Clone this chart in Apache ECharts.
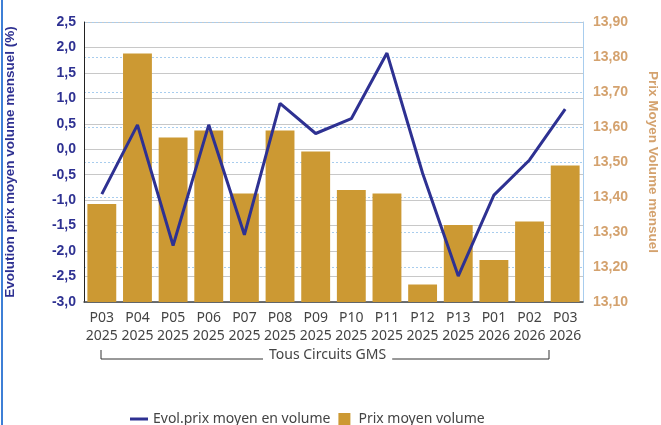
<!DOCTYPE html>
<html>
<head>
<meta charset="utf-8">
<script src="https://cdn.jsdelivr.net/npm/echarts@6/dist/echarts.min.js"></script>
<style>
  html, body { margin: 0; padding: 0; background: #fff; }
  #frame { position: absolute; left: 0; top: 0; width: 661px; height: 425px; }
  #frame:before { content: ''; position: absolute; left: 1px; top: 0; width: 2px; height: 425px; background: #3d7fd6; }
  #chart { width: 661px; height: 425px; }
</style>
</head>
<body>
<div id="frame"><div id="chart"></div></div>
<script>
const periods = ['P03', 'P04', 'P05', 'P06', 'P07', 'P08', 'P09', 'P10', 'P11', 'P12', 'P13', 'P01', 'P02', 'P03'];
const years = ['2025', '2025', '2025', '2025', '2025', '2025', '2025', '2025', '2025', '2025', '2025', '2026', '2026', '2026'];
const evolPrix = [-0.88, 0.48, -1.89, 0.48, -1.68, 0.90, 0.31, 0.60, 1.89, -0.47, -2.49, -0.90, -0.21, 0.79];
const prixMoyen = [13.38, 13.81, 13.57, 13.59, 13.41, 13.59, 13.53, 13.42, 13.41, 13.15, 13.32, 13.22, 13.33, 13.49];

const blue = '#2e3192';
const tan = '#d4a26e';
const gold = '#cc9933';

const categories = periods.map((p, i) => p + '\n' + years[i]);
const fmt = (v, d) => v.toFixed(d).replace('.', ',');

const chart = echarts.init(document.getElementById('chart'));

chart.setOption({
  animation: false,
  grid: { left: 84, right: 78, top: 22, bottom: 123, outerBoundsMode: 'none', containLabel: false },
  legend: {
    left: 125,
    top: 407,
    itemWidth: 18,
    itemHeight: 12,
    itemGap: 8,
    textStyle: { color: '#444', fontSize: 14, fontFamily: 'Noto Sans' },
    data: [
      { name: 'Evol.prix moyen en volume', icon: 'path://M0,0h18v3h-18z' },
      { name: 'Prix moyen volume', icon: 'path://M0,0h12v12h-12z' },
    ],
  },
  xAxis: {
    type: 'category',
    data: categories,
    axisTick: { show: false },
    axisLine: { onZero: false, lineStyle: { color: '#444', width: 1.5 } },
    axisLabel: {
      interval: 0,
      color: '#444',
      fontSize: 14,
      lineHeight: 18,
      margin: 7,
      fontFamily: 'Noto Sans',
    },
  },
  yAxis: [
    {
      type: 'value',
      min: -3,
      max: 2.5,
      interval: 0.5,
      name: 'Evolution prix moyen volume mensuel (%)',
      nameLocation: 'middle',
      nameGap: 67,
      nameTextStyle: { color: blue, fontWeight: 'bold', fontSize: 13.5, fontFamily: 'Liberation Sans' },
      axisLine: { show: true, onZero: false, lineStyle: { color: '#222' } },
      axisTick: { show: false },
      axisLabel: {
        color: blue,
        fontWeight: 'bold',
        fontSize: 14,
        fontFamily: 'Liberation Sans',
        margin: 8,
        formatter: (v) => fmt(v, 1),
      },
      splitLine: { lineStyle: { color: '#c8c8c8', width: 1 } },
    },
    {
      type: 'value',
      min: 13.1,
      max: 13.9,
      interval: 0.1,
      name: 'Prix Moyen Volume mensuel',
      nameLocation: 'middle',
      nameGap: 63,
      nameRotate: -90,
      nameTextStyle: { color: tan, fontWeight: 'bold', fontSize: 13.5, fontFamily: 'Liberation Sans' },
      axisLine: { show: true, onZero: false, lineStyle: { color: '#a8cdee' } },
      axisTick: { show: false },
      axisLabel: {
        color: tan,
        fontWeight: 'bold',
        fontSize: 14,
        fontFamily: 'Liberation Sans',
        margin: 10,
        formatter: (v) => fmt(v, 2),
      },
      splitLine: { lineStyle: { color: '#a8cdee', type: [2, 2], width: 1 } },
    },
  ],
  graphic: [
    {
      type: 'polyline',
      shape: { points: [[101, 350], [101, 359], [549, 359], [549, 350]] },
      style: { stroke: '#333', lineWidth: 1, fill: null },
    },
    {
      type: 'text',
      left: 263,
      top: 348,
      style: {
        text: 'Tous Circuits GMS',
        fill: '#444',
        fontSize: 14,
        fontFamily: 'Noto Sans',
        backgroundColor: '#fff',
        padding: [0, 6],
      },
    },
  ],
  series: [
    {
      name: 'Prix moyen volume',
      type: 'bar',
      yAxisIndex: 1,
      data: prixMoyen,
      barWidth: '81%',
      itemStyle: { color: gold },
      z: 2,
    },
    {
      name: 'Evol.prix moyen en volume',
      type: 'line',
      yAxisIndex: 0,
      data: evolPrix,
      symbol: 'none',
      lineStyle: { color: blue, width: 3 },
      itemStyle: { color: blue },
      z: 3,
    },
  ],
});
</script>
</body>
</html>
